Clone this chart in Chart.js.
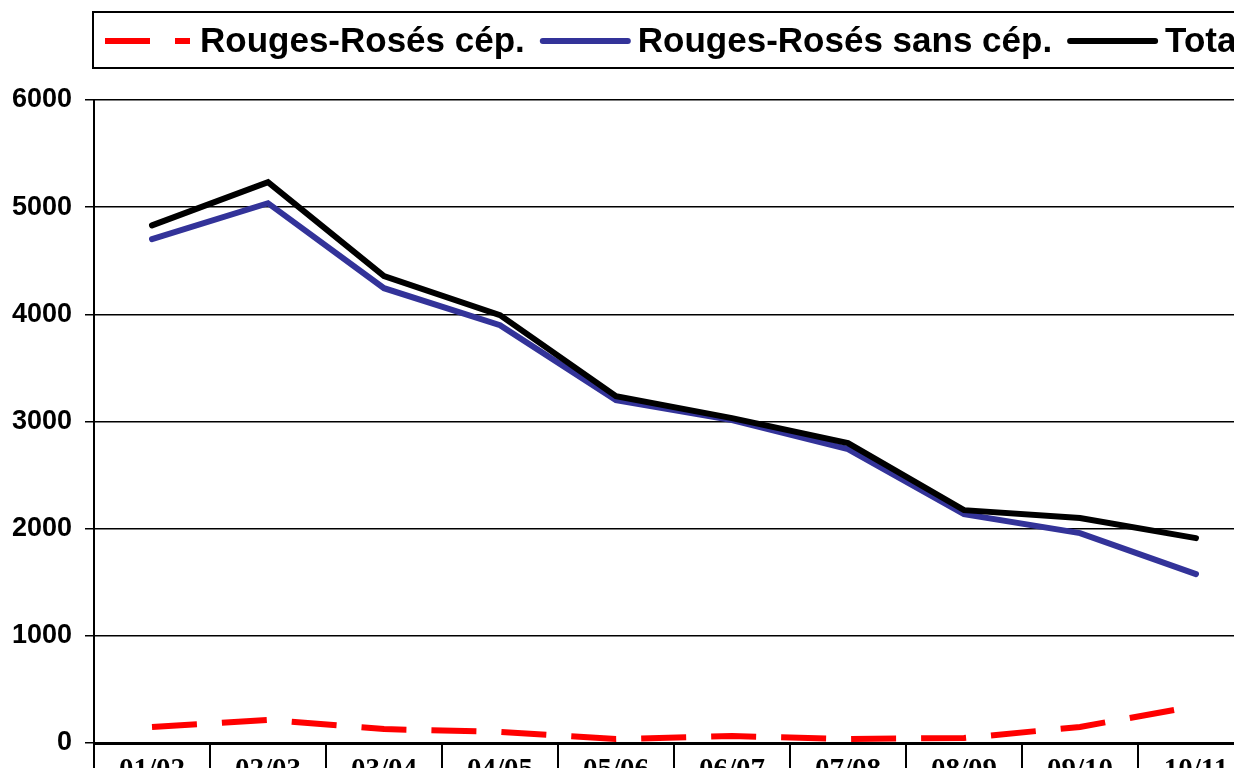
<!DOCTYPE html>
<html lang="fr">
<head>
    <meta charset="UTF-8">
    <title>Rouges-Rosés</title>
    <script src="https://cdn.jsdelivr.net/npm/chart.js"></script>
    <style>
        html, body { margin: 0; padding: 0; background: #fff; overflow: hidden; }
        #wrap { position: absolute; left: 0; top: 0; width: 1270px; height: 810px; }
    </style>
</head>
<body>
    <div id="wrap">
        <canvas id="wineChart" width="1270" height="810"></canvas>
    </div>

    <script>
        const categories = ['01/02', '02/03', '03/04', '04/05', '05/06', '06/07', '07/08', '08/09', '09/10', '10/11'];
        const cepValues = [150, 215, 130, 103, 37, 65, 37, 47, 150, 345];
        const sansCepValues = [4701, 5037, 4244, 3899, 3200, 3013, 2743, 2136, 1959, 1576];
        const totalValues = [4830, 5233, 4356, 3993, 3237, 3032, 2799, 2173, 2099, 1912];
        const yMin = 0;
        const yMax = 6000;
        const yStep = 1000;

        // legend drawn in a box above the plot, like the spreadsheet original
        const boxedLegend = {
            id: 'boxedLegend',
            afterDraw(chart) {
                const ctx = chart.ctx;
                ctx.save();
                ctx.strokeStyle = '#000';
                ctx.lineWidth = 2;
                ctx.strokeRect(93, 12, 1300, 56);

                ctx.font = 'bold 35px "Liberation Sans", Arial, sans-serif';
                ctx.textBaseline = 'middle';
                ctx.fillStyle = '#000';
                let x = 105;
                const y = 41;
                chart.data.datasets.forEach(ds => {
                    ctx.beginPath();
                    ctx.strokeStyle = ds.borderColor;
                    ctx.lineWidth = ds.borderWidth;
                    ctx.lineCap = ds.borderCapStyle || 'butt';
                    ctx.setLineDash(ds.borderDash || []);
                    ctx.moveTo(x, y);
                    ctx.lineTo(x + 85, y);
                    ctx.stroke();
                    ctx.setLineDash([]);
                    x += 95;
                    ctx.fillText(ds.label, x, y + 1);
                    x += ctx.measureText(ds.label).width + 18;
                });
                ctx.restore();
            }
        };

        window.onload = function() {
            const ctx = document.getElementById('wineChart').getContext('2d');
            new Chart(ctx, {
                type: 'line',
                data: {
                    labels: categories,
                    datasets: [
                        { label: 'Rouges-Rosés cép.', data: cepValues, borderColor: '#ff0000', borderWidth: 6,
                          borderDash: [45, 25], borderCapStyle: 'butt', order: 2 },
                        { label: 'Rouges-Rosés sans cép.', data: sansCepValues, borderColor: '#333399', borderWidth: 6,
                          borderCapStyle: 'round', order: 1 },
                        { label: 'Total', data: totalValues, borderColor: '#000000', borderWidth: 6,
                          borderCapStyle: 'round', order: 0 }
                    ]
                },
                options: {
                    responsive: false,
                    animation: false,
                    layout: { padding: { top: 100, right: 16, left: 0, bottom: 0 } },
                    elements: { point: { radius: 0 }, line: { tension: 0, fill: false } },
                    plugins: { legend: { display: false }, tooltip: { enabled: false } },
                    scales: {
                        x: {
                            offset: true,
                            grid: { offset: true, drawOnChartArea: false, drawTicks: true, tickLength: 40, color: '#000', lineWidth: 2 },
                            border: { color: '#000', width: 3 },
                            ticks: { color: '#000', padding: -30, maxRotation: 0,
                                     font: { family: '"Liberation Serif", "Times New Roman", serif', size: 29, weight: 'bold' } },
                            afterFit(scale) { scale.height = 67; }
                        },
                        y: {
                            min: yMin,
                            max: yMax,
                            grid: { color: '#000', lineWidth: 1.5, tickLength: 9 },
                            border: { color: '#000', width: 2 },
                            ticks: { stepSize: yStep, color: '#000', padding: 13,
                                     callback: value => String(value),
                                     font: { family: '"Liberation Sans", Arial, sans-serif', size: 27, weight: 'bold' } },
                            afterFit(scale) { scale.width = 94; }
                        }
                    }
                },
                plugins: [boxedLegend]
            });
        };
    </script>
</body>
</html>
